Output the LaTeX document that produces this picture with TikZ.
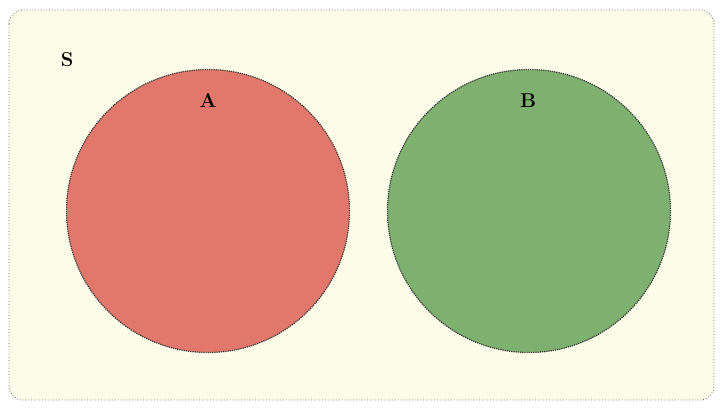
\documentclass[tikz,border=0pt]{standalone}
\usepackage{tikz}
\usetikzlibrary{positioning}
\definecolor{bgyel}{RGB}{252,252,232}
\definecolor{setred}{RGB}{226,120,108}
\definecolor{setgreen}{RGB}{126,176,112}
\begin{document}
\begin{tikzpicture}[x=1pt,y=-1pt,
  setcirc/.style={circle,draw=black!80,densely dotted,line width=1.2pt,minimum size=283pt,inner sep=0pt},
  lab/.style={font=\fontsize{20}{24}\selectfont\bfseries}]
\useasboundingbox (0,0) rectangle (723,409);
\draw[dotted,black!60,line width=0.8pt,fill=bgyel,rounded corners=14pt] (9,10) rectangle (714,400);
\node[setcirc,fill=setred] (A) at (208,211) {};
\node[setcirc,fill=setgreen] (B) at (529,211) {};
\node[lab] (S) at (67,60) {S};
\node[lab] (labA) at (208,101) {A};
\node[lab] (labB) at (528,101) {B};
\end{tikzpicture}
\end{document}
